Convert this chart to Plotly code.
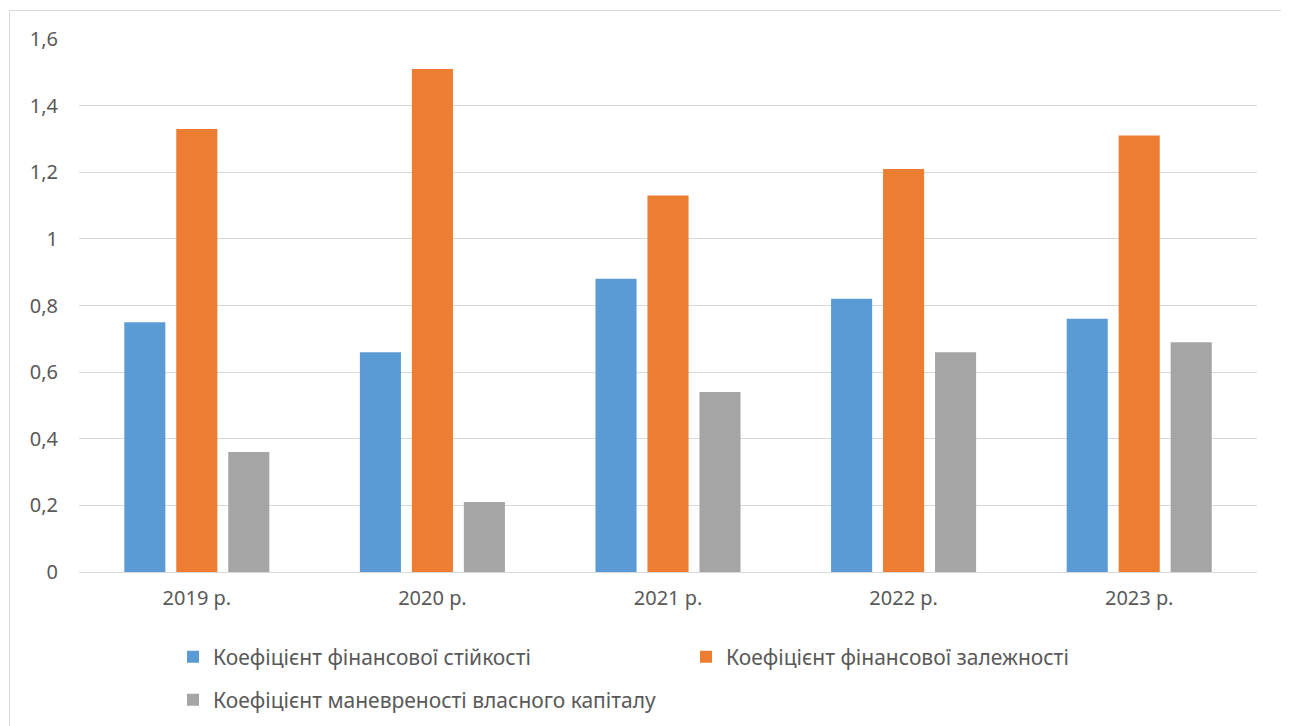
import plotly.graph_objects as go

categories = ["2019 р.", "2020 р.", "2021 р.", "2022 р.", "2023 р."]
series_names = [
    "Коефіцієнт фінансової стійкості",
    "Коефіцієнт фінансової залежності",
    "Коефіцієнт маневреності власного капіталу",
]
stability = [0.75, 0.66, 0.88, 0.82, 0.76]
dependence = [1.33, 1.51, 1.13, 1.21, 1.31]
maneuver = [0.36, 0.21, 0.54, 0.66, 0.69]
colors = ["#5B9BD5", "#ED7D31", "#A5A5A5"]

OFF = 8  # default page body margin
W, H = 1289 - OFF, 726 - OFF
L, T = 79 - OFF, 39 - OFF
R = W - (1257 - OFF)
B = H - (572 - OFF)
pw, ph = W - L - R, H - T - B


def px_x(p):
    return (p - OFF - L) / pw


def px_y(p):
    return (T + ph - (p - OFF)) / ph


fig = go.Figure()
legends = ["legend", "legend", "legend2"]
for name, vals, c, lg in zip(series_names, [stability, dependence, maneuver], colors, legends):
    fig.add_trace(go.Bar(x=categories, y=vals, name=name, legend=lg,
                         marker=dict(color=c, line=dict(width=0))))

font = "Noto Sans"
txt = "#595959"
legend_common = dict(orientation="h", xanchor="left", yanchor="middle",
                     entrywidth=468, entrywidthmode="pixels",
                     font=dict(family=font, size=21, color=txt),
                     bgcolor="rgba(0,0,0,0)", borderwidth=0)
fig.update_layout(
    width=W, height=H,
    margin=dict(l=L, r=R, t=T, b=B, autoexpand=False),
    paper_bgcolor="white", plot_bgcolor="white",
    barmode="group", bargap=0.338, bargroupgap=0.21,
    separators=", ",
    font=dict(family=font, size=20, color=txt),
    xaxis=dict(showgrid=False, showline=True, linecolor="#D9D9D9", linewidth=1,
               ticks="", ticklabelstandoff=8, tickfont=dict(size=20, color=txt)),
    yaxis=dict(range=[0, 1.6], dtick=0.2, showgrid=True, gridcolor="#D9D9D9", gridwidth=1,
               zeroline=False, showline=False, ticks="", ticklabelstandoff=20,
               tickfont=dict(size=20, color=txt)),
    legend=dict(x=px_x(173), y=px_y(657), **legend_common),
    legend2=dict(x=px_x(173), y=px_y(700), **legend_common),
    shapes=[dict(type="rect", xref="paper", yref="paper",
                 x0=px_x(9.5), x1=px_x(1285.5), y0=px_y(760), y1=px_y(10.5),
                 line=dict(color="#D9D9D9", width=1), fillcolor="rgba(0,0,0,0)", layer="below")],
)
fig.write_html("out.html")
